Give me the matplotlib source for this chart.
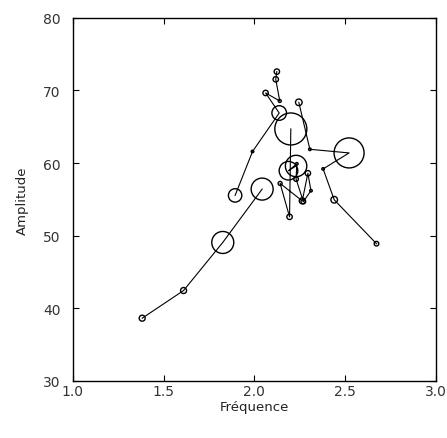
import matplotlib.pyplot as plt

# ==============================================================================
# Data
# ==============================================================================
# each track is one connected trajectory; radius is the circle radius in pixels
track_a_freq = [1.382, 1.610, 1.826, 2.043]
track_a_ampl = [38.64, 42.45, 49.07, 56.42]
track_a_radius = [3.0, 3.0, 11.0, 11.0]

track_b_freq = [1.894, 1.990, 2.137, 2.062, 2.140, 2.118, 2.124]
track_b_ampl = [55.55, 61.60, 66.90, 69.66, 68.56, 71.54, 72.60]
track_b_radius = [6.7, 1.3, 7.3, 2.7, 1.5, 2.7, 2.7]

track_c_freq = [2.201, 2.194, 2.142, 2.264, 2.295, 2.312, 2.270, 2.230, 2.234, 2.188, 2.230]
track_c_ampl = [64.70, 52.60, 57.20, 54.80, 58.60, 56.20, 54.70, 57.80, 59.90, 58.95, 59.60]
track_c_radius = [16.0, 2.7, 2.0, 3.0, 2.7, 1.3, 2.3, 2.3, 1.3, 9.3, 10.7]

track_d_freq = [2.245, 2.306, 2.522, 2.379, 2.440, 2.673]
track_d_ampl = [68.37, 61.90, 61.40, 59.20, 54.95, 48.90]
track_d_radius = [3.3, 1.3, 15.0, 1.3, 3.3, 2.3]

tracks = [
    (track_a_freq, track_a_ampl, track_a_radius),
    (track_b_freq, track_b_ampl, track_b_radius),
    (track_c_freq, track_c_ampl, track_c_radius),
    (track_d_freq, track_d_ampl, track_d_radius),
]

DPI = 100


def plot_tracks():
    fig = plt.figure(figsize=(4.47, 4.39), dpi=DPI)
    ax = fig.add_axes([0.163, 0.130, 0.812, 0.827])

    for freq, ampl, radius in tracks:
        ax.plot(freq, ampl, color='black', linewidth=0.8, zorder=2)
        # marker size in points: diameter in px * 72 / dpi
        sizes = [(2 * r * 72 / DPI) ** 2 for r in radius]
        ax.scatter(freq, ampl, s=sizes, facecolors='none',
                   edgecolors='black', linewidths=1.0, zorder=3)

    ax.set_xlim(1.0, 3.0)
    ax.set_ylim(30, 80)
    ax.set_xticks([1.0, 1.5, 2.0, 2.5, 3.0])
    ax.set_yticks([30, 40, 50, 60, 70, 80])
    ax.set_xticklabels(['1.0', '1.5', '2.0', '2.5', '3.0'])

    ax.tick_params(direction='in', length=4, width=0.8, top=True, right=True,
                   labelsize=10, labelcolor='#333333')
    ax.tick_params(axis='x', pad=2)
    ax.tick_params(axis='y', pad=9)
    for spine in ax.spines.values():
        spine.set_linewidth(1.0)

    ax.set_xlabel("Fréquence", fontsize=9.5, color='#222222', labelpad=2)
    ax.set_ylabel("Amplitude", fontsize=9.5, color='#222222', labelpad=10)

    fig.savefig("out.png", dpi=DPI)


if __name__ == "__main__":
    plot_tracks()
